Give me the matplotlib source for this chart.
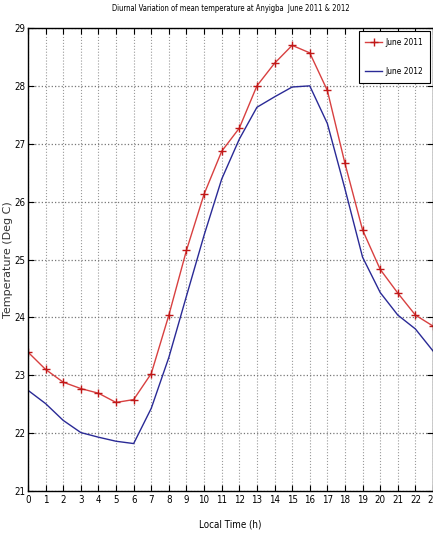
import matplotlib.pyplot as plt
from matplotlib.ticker import MultipleLocator

# hourly mean temperature (deg C)
hours = list(range(24))
june_2011 = [23.40, 23.10, 22.88, 22.77, 22.69, 22.53, 22.58, 23.03,
             24.04, 25.16, 26.13, 26.87, 27.27, 28.00, 28.39, 28.70,
             28.57, 27.92, 26.66, 25.51, 24.83, 24.42, 24.04, 23.85]
june_2012 = [22.74, 22.51, 22.22, 22.01, 21.93, 21.86, 21.82, 22.43,
             23.31, 24.37, 25.42, 26.39, 27.08, 27.63, 27.81, 27.98,
             28.00, 27.35, 26.22, 25.04, 24.43, 24.04, 23.80, 23.42]
labels = ['June 2011', 'June 2012']

plt.rcParams['font.family'] = ['Liberation Sans Narrow', 'DejaVu Sans']
plt.rcParams['font.stretch'] = 'condensed'

fig = plt.figure(figsize=(4.33, 5.35), dpi=100)
ax = fig.add_axes([0.0647, 0.0822, 0.9353, 0.8655])

ax.plot(hours, june_2011, color='#d84040', lw=1.0, marker='+', ms=6,
        mew=1.0, mec='#c01818', label=labels[0])
ax.plot(hours, june_2012, color='#2a2a96', lw=1.0, label=labels[1])

ax.set_xlim(0, 23)
ax.set_ylim(21, 29)
ax.xaxis.set_major_locator(MultipleLocator(1))
ax.yaxis.set_major_locator(MultipleLocator(1))
ax.xaxis.grid(True, ls=':', color='#9a9a9a', lw=0.8)
ax.yaxis.grid(True, ls=':', color='#777777', lw=0.9)
ax.tick_params(direction='in', top=True, right=True, length=4, width=0.8,
               labelsize=7, pad=3)
ax.tick_params(axis='y', pad=2)
for s in ax.spines.values():
    s.set_linewidth(1.0)

ax.set_title('Diurnal Variation of mean temperature at Anyigba  June 2011 & 2012',
             fontsize=5.5, pad=12)
ax.set_xlabel('Local Time (h)', fontsize=7, labelpad=10)
ax.set_ylabel('Temperature (Deg C)', fontsize=8, color='#333333',
              family=['DejaVu Sans'], stretch='normal')
ax.yaxis.set_label_coords(-0.036, 0.5)

leg = ax.legend(loc='upper right', fontsize=6, fancybox=False,
                edgecolor='black', framealpha=1, handlelength=2.0,
                handletextpad=0.4, borderpad=0.8, labelspacing=2.4,
                borderaxespad=0.4)
leg.get_frame().set_linewidth(0.8)

fig.savefig('out.png', dpi=100)
